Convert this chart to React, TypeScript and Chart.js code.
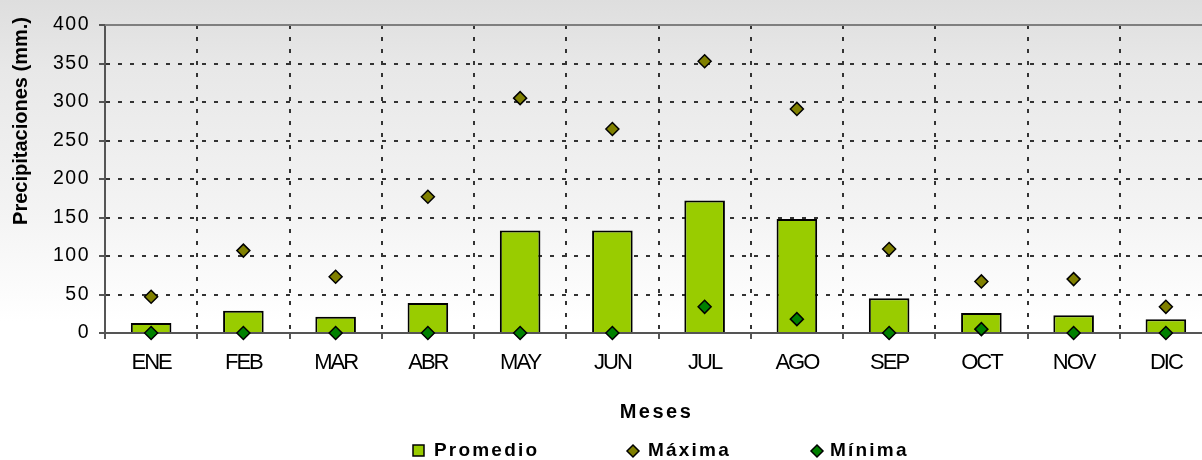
import React, { useEffect, useRef } from "react";
import { Chart, registerables } from "chart.js";

Chart.register(...registerables);

const categories = ["ENE", "FEB", "MAR", "ABR", "MAY", "JUN", "JUL", "AGO", "SEP", "OCT", "NOV", "DIC"];
const promedio = [13, 29, 21, 39, 133, 133, 172, 148, 45, 26, 23, 18];
const maxima = [47, 107, 73, 177, 305, 265, 353, 291, 109, 67, 70, 34];
const minima = [0, 0, 0, 0, 0, 0, 34, 18, 0, 5, 0, 0];
const yTicks = [0, 50, 100, 150, 200, 250, 300, 350, 400];
const seriesNames = ["Promedio", "Máxima", "Mínima"];
const yTitle = "Precipitaciones (mm.)";
const xTitle = "Meses";

const FONT = "'Liberation Sans', Arial, Helvetica, sans-serif";
const BAR_COLOR = "#99CC00";
const MAX_COLOR = "#808000";
const MIN_COLOR = "#008000";

function patchLabels(scale: any, spacing: string) {
  if (!scale || scale.__patched) return;
  const orig = scale.drawLabels.bind(scale);
  scale.drawLabels = (area: any) => {
    const ctx = scale.ctx;
    ctx.save();
    (ctx as any).letterSpacing = spacing;
    orig(area);
    ctx.restore();
  };
  scale.__patched = true;
}

function diamond(ctx: CanvasRenderingContext2D, x: number, y: number, r: number, fill: string) {
  ctx.beginPath();
  ctx.moveTo(x, y - r);
  ctx.lineTo(x + r, y);
  ctx.lineTo(x, y + r);
  ctx.lineTo(x - r, y);
  ctx.closePath();
  ctx.fillStyle = fill;
  ctx.fill();
  ctx.lineWidth = 1.5;
  ctx.strokeStyle = "#000";
  ctx.stroke();
}

const decorPlugin = {
  id: "decor",
  beforeDraw(chart: any) {
    const ctx: CanvasRenderingContext2D = chart.ctx;
    ctx.save();
    const g = ctx.createLinearGradient(0, 0, 0, chart.height);
    g.addColorStop(0, "#dedede");
    g.addColorStop(0.15, "#e8e8e8");
    g.addColorStop(0.45, "#f3f3f3");
    g.addColorStop(0.7, "#ffffff");
    g.addColorStop(1, "#ffffff");
    ctx.fillStyle = g;
    ctx.fillRect(0, 0, chart.width, chart.height);
    ctx.restore();
    patchLabels(chart.scales.x, "-2px");
    patchLabels(chart.scales.y, "1.5px");
  },
  beforeDatasetsDraw(chart: any) {
    const ctx: CanvasRenderingContext2D = chart.ctx;
    const a = chart.chartArea;
    ctx.save();
    ctx.strokeStyle = "#7f7f7f";
    ctx.lineWidth = 2;
    ctx.beginPath();
    ctx.moveTo(a.left, a.top);
    ctx.lineTo(a.right, a.top);
    ctx.stroke();
    ctx.restore();
  },
  afterDraw(chart: any) {
    const ctx: CanvasRenderingContext2D = chart.ctx;
    const a = chart.chartArea;
    ctx.save();
    ctx.fillStyle = "#000";
    // y title
    ctx.save();
    ctx.translate(27, 121);
    ctx.rotate(-Math.PI / 2);
    ctx.font = `bold 20px ${FONT}`;
    ctx.textAlign = "center";
    ctx.textBaseline = "alphabetic";
    ctx.fillText(yTitle, 0, 0);
    ctx.restore();
    // x title
    ctx.font = `bold 20px ${FONT}`;
    (ctx as any).letterSpacing = "2.5px";
    ctx.textAlign = "center";
    ctx.textBaseline = "middle";
    ctx.fillText(xTitle, (a.left + a.right) / 2 - 2, 412);
    // legend
    const ly = 451;
    ctx.font = `bold 19px ${FONT}`;
    (ctx as any).letterSpacing = "2.2px";
    ctx.textAlign = "left";
    ctx.fillStyle = BAR_COLOR;
    ctx.fillRect(413, ly - 6, 11, 11);
    ctx.lineWidth = 1.5;
    ctx.strokeStyle = "#000";
    ctx.strokeRect(413, ly - 6, 11, 11);
    ctx.fillStyle = "#000";
    ctx.fillText(chart.data.datasets[0].label, 434, ly);
    diamond(ctx, 633, ly, 6, MAX_COLOR);
    ctx.fillStyle = "#000";
    ctx.fillText(chart.data.datasets[1].label, 648, ly);
    diamond(ctx, 817, ly, 6, MIN_COLOR);
    ctx.fillStyle = "#000";
    ctx.fillText(chart.data.datasets[2].label, 830, ly);
    ctx.restore();
  },
};

export default function App() {
  const ref = useRef<HTMLCanvasElement | null>(null);

  useEffect(() => {
    if (!ref.current) return;
    const chart = new Chart(ref.current, {
      type: "bar",
      data: {
        labels: categories,
        datasets: [
          {
            type: "bar",
            label: seriesNames[0],
            data: promedio,
            backgroundColor: BAR_COLOR,
            borderColor: "#000",
            borderWidth: 2,
            barPercentage: 0.44,
            categoryPercentage: 1,
            order: 2,
          } as any,
          {
            type: "line",
            label: seriesNames[1],
            data: maxima,
            showLine: false,
            pointStyle: "rectRot",
            pointRadius: 6.5,
            pointBackgroundColor: MAX_COLOR,
            pointBorderColor: "#000",
            pointBorderWidth: 1.5,
            clip: false,
            order: 1,
          } as any,
          {
            type: "line",
            label: seriesNames[2],
            data: minima,
            showLine: false,
            pointStyle: "rectRot",
            pointRadius: 6.5,
            pointBackgroundColor: MIN_COLOR,
            pointBorderColor: "#000",
            pointBorderWidth: 1.5,
            clip: false,
            order: 0,
          } as any,
        ],
      },
      options: {
        animation: false,
        responsive: false,
        devicePixelRatio: 1,
        layout: { padding: { left: 0, right: 8, top: 25, bottom: 0 } },
        plugins: {
          legend: { display: false },
          title: { display: false },
          tooltip: { enabled: false },
        },
        scales: {
          x: {
            offset: true,
            grid: {
              offset: true,
              color: "#333",
              lineWidth: 2,
              drawTicks: true,
              tickLength: 6,
              tickColor: "#555",
              tickWidth: 2,
            },
            border: { display: true, color: "#555", width: 2, dash: [4, 8] },
            ticks: {
              color: "#000",
              font: { family: FONT, size: 22 },
              padding: 11,
              maxRotation: 0,
              autoSkip: false,
            },
            afterFit: (s: any) => {
              s.height = 127;
            },
          },
          y: {
            min: 0,
            max: 400,
            afterBuildTicks: (s: any) => {
              s.ticks = yTicks.map((v) => ({ value: v }));
            },
            grid: {
              color: "#333",
              lineWidth: 2,
              drawTicks: true,
              tickLength: 6,
              tickColor: "#555",
              tickWidth: 2,
            },
            border: { display: true, color: "#555", width: 2, dash: [4, 8] },
            ticks: {
              color: "#000",
              font: { family: FONT, size: 19.5 },
              padding: 9,
            },
            afterFit: (s: any) => {
              s.width = 105;
            },
          },
        },
      },
      plugins: [decorPlugin],
    });
    return () => chart.destroy();
  }, []);

  return (
    <div
      style={{
        position: "fixed",
        left: 0,
        top: 0,
        width: 1202,
        height: 460,
        overflow: "hidden",
        background: "#fff",
      }}
    >
      <canvas ref={ref} width={1220} height={460} style={{ width: 1220, height: 460, display: "block" }} />
    </div>
  );
}
